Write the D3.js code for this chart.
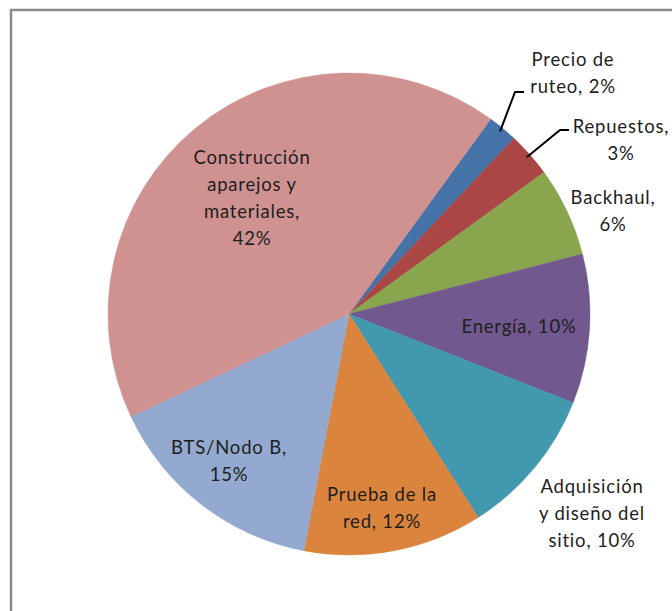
<!DOCTYPE html>
<html>
<head>
<meta charset="utf-8">
<script src="https://cdn.jsdelivr.net/npm/d3@7"></script>
<style>
  html, body { margin: 0; padding: 0; background: #fff; }
  svg { display: block; }
  .lbl { font-family: Lato, "Open Sans", sans-serif; font-size: 18.5px; letter-spacing: 0.8px; fill: #1e1e1e; }
</style>
</head>
<body>
<div id="chart"></div>
<script>
// Data (clockwise, starting from the "Precio de ruteo" slice)
const categories = [
  'Precio de ruteo', 'Repuestos', 'Backhaul', 'Energía',
  'Adquisición y diseño del sitio', 'Prueba de la red', 'BTS/Nodo B',
  'Construcción aparejos y materiales'
];
const values = [2, 3, 6, 10, 10, 12, 15, 42];
const labelLines = [
  ['Precio de', 'ruteo, 2%'],
  ['Repuestos,', '3%'],
  ['Backhaul,', '6%'],
  ['Energía, 10%'],
  ['Adquisición', 'y diseño del', 'sitio, 10%'],
  ['Prueba de la', 'red, 12%'],
  ['BTS/Nodo B,', '15%'],
  ['Construcción', 'aparejos y', 'materiales,', '42%']
];
const colors = ['#4572a7', '#aa4643', '#89a54e', '#71588f', '#4198af', '#db843d', '#93a9cf', '#d09191'];

// Layout
const W = 672, H = 611;
const cx = 349, cy = 314, R = 241;
const startAngle = 36 * Math.PI / 180;
const lineH = 27;
// label centre [x, y of first line]; leader elbow for the two small slices
const labelPos = [
  { x: 573, y: 60, elbow: [515, 92], end: [524, 92] },
  { x: 621, y: 127, elbow: [560, 130], end: [569, 130] },
  { x: 613, y: 198 },
  { x: 519, y: 327 },
  { x: 592, y: 487 },
  { x: 382, y: 495 },
  { x: 229, y: 448 },
  { x: 252, y: 158 }
];

const svg = d3.select('#chart').append('svg')
  .attr('width', W)
  .attr('height', H);

// chart frame
svg.append('rect')
  .attr('x', 11).attr('y', 10)
  .attr('width', W + 20).attr('height', H + 20)
  .attr('fill', '#fff')
  .attr('stroke', '#8a8a8a')
  .attr('stroke-width', 2.5);

const pie = d3.pie()
  .sort(null)
  .value(d => d)
  .startAngle(startAngle)
  .endAngle(startAngle + 2 * Math.PI);

const arcs = pie(values);
const arc = d3.arc().innerRadius(0).outerRadius(R);
const edge = d3.arc().innerRadius(R - 4).outerRadius(R - 4);

const g = svg.append('g').attr('transform', `translate(${cx},${cy})`);

g.selectAll('path.slice')
  .data(arcs)
  .enter()
  .append('path')
  .attr('class', 'slice')
  .attr('d', arc)
  .attr('fill', (d, i) => colors[i])
  .attr('stroke', (d, i) => colors[i])
  .attr('stroke-width', 0.5);

// leader lines for the small slices
arcs.forEach((d, i) => {
  const p = labelPos[i];
  if (!p.elbow) return;
  const [ax, ay] = edge.centroid(d);
  svg.append('polyline')
    .attr('points', [[cx + ax, cy + ay], p.elbow, p.end].map(q => q.join(',')).join(' '))
    .attr('fill', 'none')
    .attr('stroke', '#000')
    .attr('stroke-width', 2);
});

// labels
labelLines.forEach((lines, i) => {
  const p = labelPos[i];
  const t = svg.append('text')
    .attr('class', 'lbl')
    .attr('text-anchor', 'middle');
  lines.forEach((s, j) => {
    t.append('tspan')
      .attr('x', p.x)
      .attr('y', p.y + j * lineH)
      .attr('dy', '0.35em')
      .text(s);
  });
});
</script>
</body>
</html>
